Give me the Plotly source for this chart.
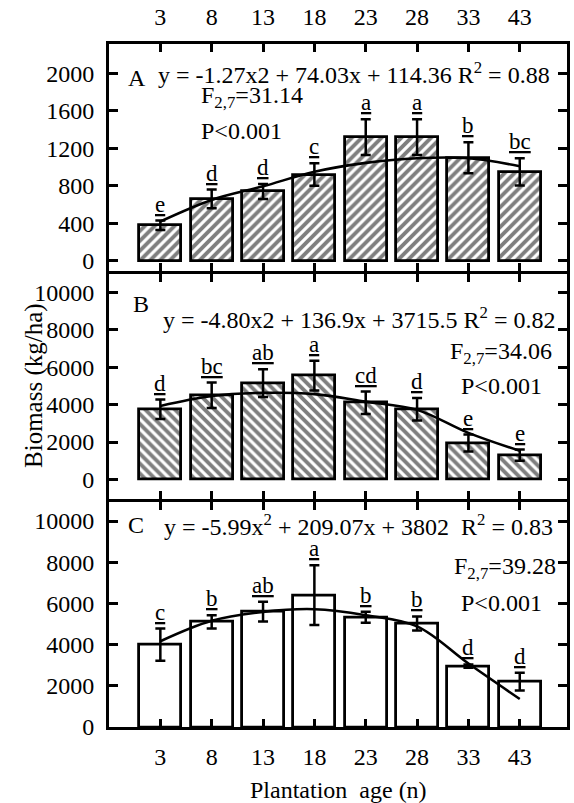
import plotly.graph_objects as go

# ---------------- data ----------------
ages = ["3", "8", "13", "18", "23", "28", "33", "43"]
idx = list(range(len(ages)))

bio_A = [380, 660, 740, 920, 1320, 1320, 1100, 950]
err_A = [50, 100, 80, 120, 190, 190, 165, 145]
fit_A = [420, 650, 795, 950, 1045, 1095, 1095, 1010]
let_A = ["e", "d", "d", "c", "a", "a", "b", "bc"]

bio_B = [3750, 4500, 5150, 5550, 4100, 3750, 1950, 1300]
err_B = [520, 680, 740, 790, 600, 600, 450, 300]
fit_B = [3930, 4460, 4630, 4560, 4160, 3720, 2490, 1530]
let_B = ["d", "bc", "ab", "a", "cd", "d", "e", "e"]

bio_C = [4000, 5100, 5600, 6400, 5330, 5030, 2960, 2200]
err_C = [780, 320, 480, 1450, 270, 340, 80, 430]
fit_C = [4165, 5160, 5590, 5720, 5430, 4885, 3080, 1360]
let_C = ["c", "b", "ab", "a", "b", "b", "d", "d"]

ticks_A = [0, 400, 800, 1200, 1600, 2000]
ticks_BC = [0, 2000, 4000, 6000, 8000, 10000]

eq_A = "y = -1.27x2 + 74.03x + 114.36 R<sup>2</sup> = 0.88"
eq_B = "y = -4.80x2 + 136.9x + 3715.5 R<sup>2</sup> = 0.82"
eq_C = "y = -5.99x<sup>2</sup> + 209.07x + 3802&nbsp; R<sup>2</sup> = 0.83"
f_A, f_B, f_C = "F<sub>2,7</sub>=31.14", "F<sub>2,7</sub>=34.06", "F<sub>2,7</sub>=39.28"
p_txt = "P<0.001"

# ---------------- figure ----------------
W, H = 574, 803
ML, MR, MT, MB = 109, 4, 43, 76
FONT = "Liberation Serif"

fig = go.Figure()

panels = [
    ("x", "y", bio_A, err_A, fit_A, let_A, "/"),
    ("x2", "y2", bio_B, err_B, fit_B, let_B, "\\"),
    ("x3", "y3", bio_C, err_C, fit_C, let_C, ""),
]

annotations = []
for xa, ya, vals, errs, fit, lets, shape in panels:
    fig.add_trace(go.Bar(
        x=idx, y=vals, xaxis=xa, yaxis=ya, width=0.82,
        marker=dict(color="white",
                    line=dict(color="black", width=2.8),
                    pattern=dict(shape=shape, fgcolor="black", bgcolor="white",
                                 size=7, solidity=0.55)),
        error_y=dict(type="data", array=errs, visible=True,
                     color="black", thickness=2.5, width=5),
        showlegend=False,
    ))
    fig.add_trace(go.Scatter(
        x=idx, y=fit, xaxis=xa, yaxis=ya, mode="lines",
        line=dict(color="black", width=2.6, shape="spline", smoothing=1.0),
        showlegend=False,
    ))
    for i, (v, e, l) in enumerate(zip(vals, errs, lets)):
        annotations.append(dict(
            x=i, y=v + e, xref=xa, yref=ya, text="<u>%s</u>" % l,
            showarrow=False, yanchor="bottom", xanchor="center", yshift=2,
            font=dict(family=FONT, size=23, color="black"),
        ))

plot_w = W - ML - MR
plot_h = H - MT - MB


def px(xp):
    return (xp - ML) / plot_w


def py(yp):
    return (H - MB - yp) / plot_h


def txt(t, x, y, size=24, xanchor="left", angle=0):
    annotations.append(dict(
        x=px(x), y=py(y), xref="paper", yref="paper", text=t, showarrow=False,
        xanchor=xanchor, yanchor="middle", textangle=angle,
        font=dict(family=FONT, size=size, color="black"),
    ))


txt("A", 126, 77)
txt(eq_A, 156, 72)
txt(f_A, 200, 96)
txt(p_txt, 200, 130)

txt("B", 131, 303)
txt(eq_B, 161, 317)
txt(f_B, 450, 352)
txt(p_txt, 461, 385)

txt("C", 126, 525)
txt(eq_C, 162, 525)
txt(f_C, 454, 568)
txt(p_txt, 461, 603)

txt("Plantation&nbsp; age (n)", 340, 790, size=24, xanchor="center")
txt("Biomass (kg/ha)", 33, 385, size=25, xanchor="center", angle=-90)

g = 3.0 / plot_h  # gap so that adjacent panel borders coincide
d_C = [0, 0.3309 - g / 2]
d_B = [0.3309 + g / 2, 0.665 - g / 2]
d_A = [0.665 + g / 2, 1.0]

common_x = dict(range=[-1.0, 7.92], tickmode="array", tickvals=idx, ticktext=ages,
                ticks="inside", ticklen=8, tickwidth=2.5, tickcolor="black",
                showline=True, linewidth=3, linecolor="black", mirror="ticks",
                showgrid=False, zeroline=False, ticklabelstandoff=6,
                tickfont=dict(family=FONT, size=24, color="black"))
common_y = dict(ticks="inside", ticklen=9, tickwidth=2.5, tickcolor="black",
                showline=True, linewidth=3, linecolor="black", mirror="ticks",
                showgrid=False, zeroline=False, ticklabelstandoff=7,
                tickmode="array",
                tickfont=dict(family=FONT, size=24, color="black"))

fig.update_layout(
    width=W, height=H,
    margin=dict(l=ML, r=MR, t=MT, b=MB, pad=0),
    paper_bgcolor="white", plot_bgcolor="white",
    bargap=0, showlegend=False,
    font=dict(family=FONT, color="black"),
    xaxis=dict(common_x, anchor="y", side="top", showticklabels=True),
    xaxis2=dict(common_x, anchor="y2", showticklabels=False, matches="x"),
    xaxis3=dict(common_x, anchor="y3", side="bottom", showticklabels=True, matches="x"),
    yaxis=dict(common_y, domain=d_A, anchor="x", range=[-112, 2314],
               tickvals=ticks_A, ticktext=[str(t) for t in ticks_A]),
    yaxis2=dict(common_y, domain=d_B, anchor="x2", range=[-1068, 10962],
                tickvals=ticks_BC, ticktext=[str(t) for t in ticks_BC]),
    yaxis3=dict(common_y, domain=d_C, anchor="x3", range=[0, 10900],
                tickvals=ticks_BC, ticktext=[str(t) for t in ticks_BC]),
    annotations=annotations,
)

fig.write_html("out.html")
